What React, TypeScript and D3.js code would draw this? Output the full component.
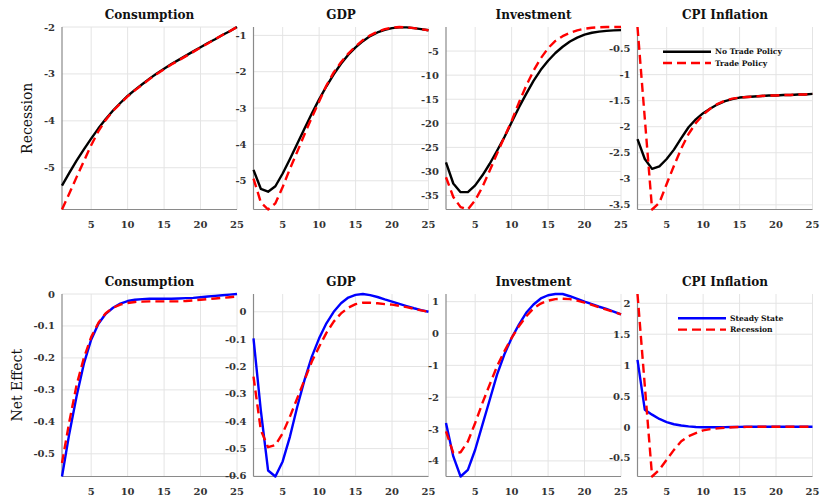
import React, { useRef, useEffect } from 'react';
import * as d3 from 'd3';

// quarters after the shock
const periods = [1, 2, 3, 4, 5, 6, 7, 8, 9, 10, 11, 12, 13, 14, 15, 16, 17, 18, 19, 20, 21, 22, 23, 24, 25];

const titles = ['Consumption', 'GDP', 'Investment', 'CPI Inflation'];
const rowLabels = ['Recession', 'Net Effect'];
const xTicks = [5, 10, 15, 20, 25];

// --- Recession row: no trade policy vs trade policy
const consumptionNoTrade = [-5.38, -5.11, -4.85, -4.61, -4.38, -4.16, -3.96, -3.78, -3.62, -3.47, -3.34, -3.22, -3.10, -2.99, -2.89, -2.79, -2.70, -2.61, -2.52, -2.43, -2.34, -2.26, -2.17, -2.09, -2.00];
const consumptionTrade = [-5.89, -5.55, -5.20, -4.86, -4.52, -4.22, -3.98, -3.79, -3.63, -3.48, -3.35, -3.23, -3.11, -3.00, -2.90, -2.80, -2.71, -2.62, -2.53, -2.44, -2.35, -2.26, -2.17, -2.09, -2.00];
const gdpNoTrade = [-4.70, -5.22, -5.30, -5.15, -4.80, -4.40, -3.98, -3.56, -3.15, -2.76, -2.40, -2.07, -1.78, -1.53, -1.33, -1.16, -1.02, -0.92, -0.85, -0.80, -0.78, -0.78, -0.80, -0.83, -0.86];
const gdpTrade = [-4.94, -5.59, -5.79, -5.62, -5.17, -4.67, -4.20, -3.72, -3.26, -2.82, -2.38, -2.02, -1.74, -1.50, -1.30, -1.13, -1.00, -0.90, -0.83, -0.79, -0.77, -0.78, -0.80, -0.83, -0.86];
const investmentNoTrade = [-28.1, -32.5, -34.3, -34.3, -32.9, -30.8, -28.4, -25.7, -22.9, -19.8, -16.7, -13.9, -11.2, -8.9, -7.0, -5.4, -4.1, -3.0, -2.2, -1.6, -1.2, -0.95, -0.8, -0.7, -0.65];
const investmentTrade = [-31.2, -35.3, -37.4, -37.9, -36.0, -33.2, -29.8, -26.3, -22.9, -19.5, -15.7, -12.2, -9.1, -6.5, -4.4, -2.9, -1.9, -1.2, -0.7, -0.35, -0.15, -0.05, 0.0, 0.0, 0.0];
const cpiNoTrade = [-2.24, -2.62, -2.81, -2.76, -2.62, -2.44, -2.22, -2.01, -1.86, -1.74, -1.65, -1.57, -1.51, -1.47, -1.44, -1.43, -1.42, -1.41, -1.40, -1.40, -1.39, -1.39, -1.38, -1.38, -1.37];
const cpiTrade = [-0.085, -1.84, -3.59, -3.46, -3.10, -2.75, -2.42, -2.14, -1.93, -1.77, -1.65, -1.56, -1.50, -1.46, -1.44, -1.43, -1.42, -1.41, -1.40, -1.40, -1.39, -1.39, -1.38, -1.38, -1.37];

// --- Net effect row: steady state vs recession
const consumptionSteady = [-0.571, -0.437, -0.32, -0.218, -0.143, -0.093, -0.062, -0.043, -0.030, -0.022, -0.018, -0.016, -0.015, -0.015, -0.015, -0.015, -0.014, -0.013, -0.012, -0.010, -0.008, -0.006, -0.004, -0.002, 0.0];
const consumptionRecession = [-0.529, -0.40, -0.285, -0.20, -0.135, -0.09, -0.06, -0.043, -0.033, -0.028, -0.025, -0.024, -0.023, -0.023, -0.023, -0.023, -0.023, -0.022, -0.020, -0.018, -0.016, -0.014, -0.012, -0.010, -0.008];
const gdpSteady = [-0.097, -0.359, -0.58, -0.602, -0.547, -0.456, -0.347, -0.249, -0.164, -0.097, -0.042, 0.0, 0.031, 0.052, 0.062, 0.065, 0.061, 0.054, 0.045, 0.037, 0.029, 0.021, 0.013, 0.006, 0.0];
const gdpRecession = [-0.237, -0.432, -0.495, -0.487, -0.444, -0.383, -0.316, -0.249, -0.182, -0.128, -0.077, -0.036, -0.006, 0.015, 0.028, 0.033, 0.033, 0.031, 0.028, 0.026, 0.022, 0.017, 0.011, 0.005, 0.0];
const investmentSteady = [-2.81, -3.86, -4.49, -4.28, -3.65, -2.86, -2.08, -1.29, -0.66, -0.14, 0.28, 0.65, 0.91, 1.10, 1.20, 1.24, 1.24, 1.17, 1.09, 1.00, 0.92, 0.84, 0.77, 0.69, 0.60];
const investmentRecession = [-3.07, -3.75, -3.73, -3.39, -2.81, -2.18, -1.60, -1.03, -0.56, -0.14, 0.23, 0.54, 0.79, 0.94, 1.03, 1.08, 1.09, 1.08, 1.03, 0.97, 0.90, 0.82, 0.75, 0.68, 0.60];
const cpiSteady = [1.085, 0.28, 0.20, 0.13, 0.08, 0.045, 0.025, 0.01, 0.0, -0.005, -0.005, -0.004, -0.002, 0.0, 0.002, 0.003, 0.004, 0.005, 0.005, 0.005, 0.005, 0.005, 0.005, 0.005, 0.005];
const cpiRecession = [2.15, 0.67, -0.80, -0.69, -0.53, -0.37, -0.23, -0.15, -0.10, -0.055, -0.035, -0.022, -0.012, -0.005, 0.0, 0.002, 0.003, 0.004, 0.005, 0.005, 0.005, 0.005, 0.005, 0.005, 0.005];

const recessionTicks = [
  [-5, -4, -3, -2],
  [-5, -4, -3, -2, -1],
  [-35, -30, -25, -20, -15, -10, -5],
  [-3.5, -3, -2.5, -2, -1.5, -1, -0.5],
];
const netTicks = [
  [-0.5, -0.4, -0.3, -0.2, -0.1, 0],
  [-0.6, -0.5, -0.4, -0.3, -0.2, -0.1, 0],
  [-4, -3, -2, -1, 0, 1],
  [-0.5, 0, 0.5, 1, 1.5, 2],
];

const topLegend = ['No Trade Policy', 'Trade Policy'];
const bottomLegend = ['Steady State', 'Recession'];

const FONT = "'DejaVu Serif', serif";

const App = () => {
  const ref = useRef<SVGSVGElement>(null);

  useEffect(() => {
    const svg = d3.select(ref.current);
    svg.selectAll('*').remove();

    const panelLeft = [62, 253.5, 446, 637.5];
    const rowTop = [27, 294];
    const plotW = 175;
    const plotH = 182.5;

    const rows = [
      {
        ticks: recessionTicks,
        colors: ['#000000', '#ff0000'],
        legend: topLegend,
        series: [
          [consumptionNoTrade, consumptionTrade],
          [gdpNoTrade, gdpTrade],
          [investmentNoTrade, investmentTrade],
          [cpiNoTrade, cpiTrade],
        ],
      },
      {
        ticks: netTicks,
        colors: ['#0000ff', '#ff0000'],
        legend: bottomLegend,
        series: [
          [consumptionSteady, consumptionRecession],
          [gdpSteady, gdpRecession],
          [investmentSteady, investmentRecession],
          [cpiSteady, cpiRecession],
        ],
      },
    ];

    const x = d3.scaleLinear().domain([1, 25]).range([0, plotW]);

    rows.forEach((row, r) => {
      row.series.forEach((pair, c) => {
        const g = svg.append('g').attr('transform', `translate(${panelLeft[c]},${rowTop[r]})`);
        const ext = d3.extent(pair.flat()) as [number, number];
        const y = d3.scaleLinear().domain(ext).range([plotH, 0]);

        // grid
        g.selectAll('.vgrid').data(xTicks).enter().append('line')
          .attr('x1', d => x(d)).attr('x2', d => x(d))
          .attr('y1', 0).attr('y2', plotH)
          .attr('stroke', '#e4e4e4').attr('stroke-width', 1);
        g.selectAll('.hgrid').data(row.ticks[c]).enter().append('line')
          .attr('x1', 0).attr('x2', plotW)
          .attr('y1', d => y(d)).attr('y2', d => y(d))
          .attr('stroke', '#e4e4e4').attr('stroke-width', 1);

        // axes (left + bottom only)
        g.append('line').attr('x1', 0).attr('x2', 0).attr('y1', 0).attr('y2', plotH)
          .attr('stroke', '#8a8a8a').attr('stroke-width', 1.2);
        g.append('line').attr('x1', 0).attr('x2', plotW).attr('y1', plotH).attr('y2', plotH)
          .attr('stroke', '#8a8a8a').attr('stroke-width', 1.2);

        // tick labels
        g.selectAll('.xt').data(xTicks).enter().append('text')
          .attr('x', d => x(d)).attr('y', plotH + 18)
          .attr('text-anchor', 'middle')
          .attr('font-family', FONT).attr('font-weight', 'bold').attr('font-size', 10)
          .attr('fill', '#333')
          .text(d => String(d));
        g.selectAll('.yt').data(row.ticks[c]).enter().append('text')
          .attr('x', -7).attr('y', d => y(d)).attr('dy', '0.35em')
          .attr('text-anchor', 'end')
          .attr('font-family', FONT).attr('font-weight', 'bold').attr('font-size', 10)
          .attr('fill', '#333')
          .text(d => String(d));

        // title
        g.append('text')
          .attr('x', plotW / 2).attr('y', -8)
          .attr('text-anchor', 'middle')
          .attr('font-family', FONT).attr('font-weight', 'bold').attr('font-size', 12)
          .attr('fill', '#111')
          .text(titles[c]);

        // lines
        const line = d3.line<number>().x((_, i) => x(periods[i])).y(d => y(d));
        pair.forEach((vals, k) => {
          g.append('path')
            .datum(vals)
            .attr('d', line)
            .attr('fill', 'none')
            .attr('stroke', row.colors[k])
            .attr('stroke-width', 2.4)
            .attr('stroke-linejoin', 'round')
            .attr('stroke-dasharray', k === 1 ? '9,5' : null);
        });

        // legend in the CPI panel
        if (c === 3) {
          const lx = r === 0 ? 25.5 : 40.5;
          const ly = r === 0 ? 24.7 : 24.3;
          row.legend.forEach((name, k) => {
            g.append('line')
              .attr('x1', lx).attr('x2', lx + 48)
              .attr('y1', ly + k * 11.3).attr('y2', ly + k * 11.3)
              .attr('stroke', row.colors[k]).attr('stroke-width', 2.4)
              .attr('stroke-dasharray', k === 1 ? '9,5' : null);
            g.append('text')
              .attr('x', lx + 52).attr('y', ly + k * 11.3).attr('dy', '0.35em')
              .attr('font-family', FONT).attr('font-weight', 'bold').attr('font-size', 7.6)
              .attr('fill', '#111')
              .text(name);
          });
        }
      });

      // row label
      const lx = r === 0 ? 27 : 17;
      const ly = rowTop[r] + plotH / 2;
      svg.append('text')
        .attr('transform', `translate(${lx},${ly}) rotate(-90)`)
        .attr('text-anchor', 'middle').attr('dy', '0.35em')
        .attr('font-family', FONT).attr('font-size', 14)
        .attr('fill', '#111')
        .text(rowLabels[r]);
    });
  }, []);

  return (
    <svg
      ref={ref}
      width={820}
      height={496}
      style={{ position: 'absolute', left: 0, top: 0, background: '#fff' }}
    />
  );
};

export default App;
